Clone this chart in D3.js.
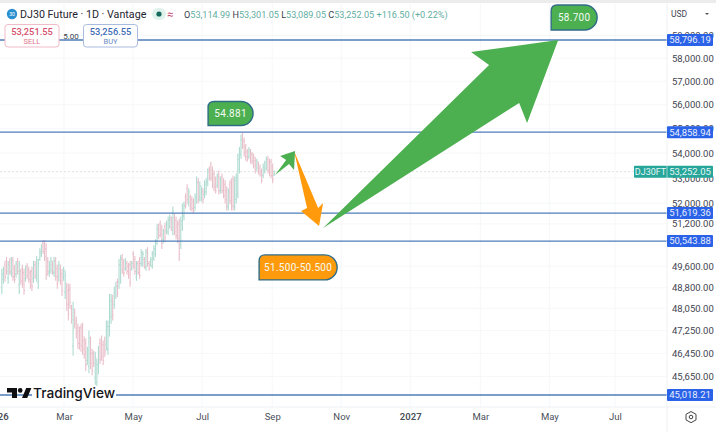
<!DOCTYPE html>
<html><head><meta charset="utf-8">
<script src="https://cdn.jsdelivr.net/npm/d3@7/dist/d3.min.js"></script>
<style>
html,body{margin:0;padding:0;background:#fff;overflow:hidden}
svg{display:block;font-family:Roboto,"Noto Sans",sans-serif}
</style></head><body><svg id="c" width="716" height="432"></svg>
<script>
// ---------- data ----------
const barOpen=[48800,49100,49650,49800,49150,49750,49350,49800,49500,49300,49780,48900,49400,49500,49350,49150,49600,49450,49350,49400,49150,49650,49200,49000,49900,50050,50450,50400,50250,49800,49350,49450,49650,49350,49800,49500,49200,49500,49300,49200,48650,48800,48700,48750,48050,46700,47900,47600,47350,47250,47350,47400,46900,46800,46200,46000,46850,46450,46400,45600,45450,45900,46800,46900,46750,46900,46750,46600,47300,47750,48350,48200,48500,49000,49000,49150,49900,49750,49500,49700,49600,49650,49500,50050,49850,49200,49700,49800,49700,49700,49850,49550,50200,49700,49650,49600,49900,50050,50550,51100,51200,51000,50600,51100,50950,50900,51100,51350,50950,51450,51350,51150,51200,50400,51150,51500,52250,52600,52000,52250,52150,52050,51850,52200,52800,52250,52200,52450,52350,52450,52800,53350,53500,53300,53150,52950,52700,53150,52500,53050,52850,52750,52500,51850,52750,52800,52950,51850,52150,52350,53350,53950,54700,54500,54250,54050,53850,54050,53950,53850,53700,53400,53550,53400,53250,53100,53300,53400,53750,53650,53650,53450,53114.99];
const barHigh=[49500,49575,49795,49945,49795,49905,49945,49945,49650,49795,49905,49795,49500,49650,49500,49610,49720,49575,49465,49575,49795,49795,49980,49870,50275,50425,50575,50575,50460,49945,49795,49945,49795,49945,49945,49650,49795,49650,49500,49575,49425,48980,48945,48945,48175,48285,48035,47755,47500,47395,47500,47535,47040,46970,46685,47255,47040,46615,46545,46510,46260,46720,46970,47075,46895,47040,47610,47610,48575,48575,48540,48835,49020,49130,49870,50020,50055,49870,49905,49795,49720,49795,49795,50165,49980,49795,49795,49945,50240,50165,49945,50240,50315,49795,49945,50165,50390,50610,51210,51210,51330,51170,51010,51250,51330,51485,51560,51485,51880,51600,51485,51330,51405,51485,51995,52075,52390,52750,52590,52350,52275,52195,52390,53060,52985,52870,52670,52590,52905,52985,53380,53460,53655,53460,53300,53060,53180,53300,53060,53180,52985,52905,52670,52590,52905,52985,53100,53060,53180,53970,54250,54760,54840,54640,54370,54170,54250,54170,54050,53970,53855,53775,53655,53540,53380,53580,53695,53855,53895,53775,53775,53580,53301.05];
const barLow=[48575,48945,49020,49280,48945,49280,49205,49055,48980,49170,49280,48575,48910,48800,48540,49020,49130,48980,48760,48685,48980,49130,49020,48760,49795,49945,50055,49795,49095,49240,49205,49315,49280,49205,49055,48760,49020,48910,48500,49055,48390,47965,47610,48035,47500,46370,47325,46970,46615,46580,46510,46400,46260,45835,46045,45760,45905,45690,45975,45370,45265,45725,46080,46190,46045,46330,46545,46400,47040,47500,47610,48035,48390,48460,48760,48945,49315,49205,49425,49280,49130,48835,49425,49500,49280,49055,49280,49130,49575,49575,49500,49425,49575,49425,49575,49500,49795,49945,50390,50610,50690,50240,50460,50500,50810,50770,51010,50930,50770,50770,50610,50460,49795,50240,50930,51330,51800,51995,51880,51720,51680,51600,51720,51995,51995,52075,52075,51995,52195,52315,52670,52905,52870,52590,52470,52390,52590,52350,52390,52390,52195,51995,51720,51720,51960,51720,51720,51720,51995,52195,53180,53775,54170,53855,53695,53655,53775,53580,53540,53380,53180,53300,53140,53060,52790,52985,53180,53300,53180,53060,52985,52790,53089.05];
const barClose=[49300,49450,49200,49400,49650,49400,49800,49200,49100,49680,49400,49650,49050,48950,48700,49500,49250,49100,48900,48850,49650,49250,49850,49700,50150,50300,50150,49950,49300,49400,49650,49800,49400,49800,49200,48950,49650,49050,48700,49450,49250,48200,47850,48250,47650,48000,47500,47150,46800,46750,46700,46600,46400,46050,46550,47000,46100,45850,46100,46300,46050,46500,46250,46350,46200,46500,47400,47400,48300,48350,47800,48650,48850,48600,49650,49850,49450,49350,49800,49400,49250,49000,49700,49600,49400,49650,49350,49250,50100,50050,49600,50100,49700,49500,49850,50050,50250,50450,51000,50750,50800,50450,50900,50650,51200,51350,51450,51050,51700,50900,50750,50650,50050,51300,51800,51900,51950,52150,52450,51850,51800,51700,52250,52850,52150,52700,52550,52150,52750,52850,53250,53000,53000,52750,52650,52500,53050,52500,52950,52500,52300,52150,51900,52450,52100,51900,51900,52900,53000,53750,54050,54550,54300,54000,53850,53750,54150,53700,53650,53500,53300,53650,53250,53150,52900,53450,53600,53750,53300,53200,53100,52950,53252.05];
const levels=[58796.19,54858.94,51619.36,50543.88,45018.21];
const lastClose=53252.05;
const priceTicks=[59000,58000,57000,56000,55000,54000,53000,52000,51200,49600,48800,48050,47250,46450,45650];
const timeTickDays=[0,59,120,181,243,304,365,427,488,546];
const timeTickLabels=["2026","Mar","May","Jul","Sep","Nov","2027","Mar","May","Jul"];
const gridDays=[59,120,181,243,304,365,427,488,546];
const firstSessionDay=4, daysPerSession=1.4;
// annotation shapes as [days since 1 Jan 2026, price]
const bigArrow=[[288,51047],[434.7,57701],[418.8,58268],[495.8,58796],[468.3,55238],[461.3,56076]];
const smallArrow=[[245.5,53124],[255.3,53723],[250,53885],[263.2,54088],[262.3,53322],[257.9,53563]];
const downArrow=[[262.3,54088],[283.6,51819],[288,52014],[284.4,51123],[268.5,51702],[273.8,51819]];
const callouts=[
 {label:"54.881",day:206.2,price:55635,fill:"#4caf50",w:45,h:24},
 {label:"58.700",day:509.9,price:59799,fill:"#4caf50",w:46,h:25},
 {label:"51.500-50.500",day:265.9,price:49552,fill:"#ff9a0d",w:78,h:25}];

// ---------- scales ----------
const W=716,H=432,paneR=667,paneB=407;
const t0=Date.UTC(2026,0,1);
const dt=d=>new Date(t0+d*864e5);
const x=d3.scaleUtc().domain([dt(0),dt(546)]).range([-2.7,615]);
const y=d3.scaleLog().domain([58796.19,45018.21]).range([40,395]);
const svg=d3.select("#c");
svg.append("rect").attr("width",W).attr("height",H).attr("fill","#fff");
svg.append("rect").attr("width",W).attr("height",3).attr("fill","#ececec");

const defs=svg.append("defs");
defs.append("clipPath").attr("id","pane").append("rect").attr("width",paneR).attr("height",paneB);
const pane=svg.append("g").attr("clip-path","url(#pane)");

// grid
pane.selectAll(".gh").data(priceTicks).join("line").attr("x1",0).attr("x2",paneR)
 .attr("y1",d=>y(d)).attr("y2",d=>y(d)).attr("stroke","#f6f7f9").attr("stroke-width",1);
pane.selectAll(".gv").data(gridDays).join("line").attr("y1",3).attr("y2",paneB)
 .attr("x1",d=>x(dt(d))).attr("x2",d=>x(dt(d))).attr("stroke","#f6f7f9").attr("stroke-width",1);

// last price line
pane.append("line").attr("x1",0).attr("x2",paneR).attr("y1",y(lastClose)).attr("y2",y(lastClose))
 .attr("stroke","#dfe5e3").attr("stroke-width",1).attr("stroke-dasharray","2 2");

// OHLC bars
const up="#aedbd1",down="#e9bfca";
const bars=pane.append("g").selectAll("g").data(barClose.map((c,i)=>({i,o:barOpen[i],h:barHigh[i],l:barLow[i],c}))).join("g")
 .attr("stroke",d=>d.c>=d.o?up:down).attr("stroke-width",1.1);
const bx=d=>x(dt(firstSessionDay+d.i*daysPerSession));
bars.append("line").attr("x1",bx).attr("x2",bx).attr("y1",d=>y(d.h)).attr("y2",d=>y(d.l));
bars.append("line").attr("x1",d=>bx(d)-1).attr("x2",bx).attr("y1",d=>y(d.o)).attr("y2",d=>y(d.o));
bars.append("line").attr("x1",bx).attr("x2",d=>bx(d)+1).attr("y1",d=>y(d.c)).attr("y2",d=>y(d.c));

// levels
pane.selectAll(".lv").data(levels).join("line").attr("x1",0).attr("x2",paneR)
 .attr("y1",d=>y(d)).attr("y2",d=>y(d)).attr("stroke","#4f7cb8").attr("stroke-width",1.3);

// arrows
const poly=d3.line().x(d=>x(dt(d[0]))).y(d=>y(d[1])).curve(d3.curveLinearClosed);
pane.append("path").attr("d",poly(downArrow)).attr("fill","#ff9a0d");
pane.append("path").attr("d",poly(bigArrow)).attr("fill","#4caf50");
pane.append("path").attr("d",poly(smallArrow)).attr("fill","#4caf50");

// callouts
const cg=pane.selectAll(".co").data(callouts).join("g")
 .attr("transform",d=>`translate(${x(dt(d.day))},${y(d.price)})`);
cg.append("path").attr("fill",d=>d.fill).attr("stroke","#2f6c86").attr("stroke-width",1.4)
 .attr("d",d=>{const a=d.w/2,b=d.h/2,r=b,s=6;
  return `M${-a},${b}V${-b+s}Q${-a},${-b} ${-a+s},${-b}H${a-r}A${r},${r} 0 0 1 ${a-r},${b}Z`;});
cg.append("text").attr("text-anchor","middle").attr("y",3.6).attr("fill","#f4fbf4")
 .attr("font-size",10).attr("letter-spacing",.3).text(d=>d.label);

// axes
const ax=svg.append("g").attr("transform",`translate(${paneR},0)`)
 .call(d3.axisRight(y).tickValues(priceTicks).tickSize(0).tickPadding(5).tickFormat(d3.format(",.2f")));
ax.select(".domain").remove();
ax.selectAll("text").attr("font-size",9.5).attr("fill","#3f4450").attr("font-family","Roboto,sans-serif");
const bxA=svg.append("g").attr("transform",`translate(0,${paneB})`)
 .call(d3.axisBottom(x).tickValues(timeTickDays.map(dt)).tickSize(0).tickPadding(6)
  .tickFormat((d,i)=>timeTickLabels[i]));
bxA.select(".domain").remove();
bxA.selectAll("text").attr("font-size",9.5).attr("fill","#4a4f5a").attr("font-family","Roboto,sans-serif")
 .attr("font-weight",(d,i)=>/^20/.test(timeTickLabels[i])?600:400);
svg.append("line").attr("x1",paneR).attr("x2",paneR).attr("y1",3).attr("y2",432).attr("stroke","#eef0f3");
svg.append("line").attr("x1",0).attr("x2",716).attr("y1",paneB).attr("y2",paneB).attr("stroke","#eef0f3");

// price tags
const tags=svg.selectAll(".tag").data(levels).join("g").attr("transform",d=>`translate(${paneR},${y(d)})`);
tags.append("rect").attr("y",-6).attr("width",46).attr("height",12).attr("rx",1).attr("fill","#2a62e8");
tags.append("text").attr("x",23).attr("y",3.4).attr("text-anchor","middle").attr("font-size",9.5).attr("fill","#e8eefc").text(d=>d3.format(",.2f")(d));
const lt=svg.append("g").attr("transform",`translate(${paneR},${y(lastClose)})`);
lt.append("rect").attr("x",-33).attr("y",-6).attr("width",33).attr("height",12).attr("rx",1).attr("fill","#26a69a");
lt.append("rect").attr("x",0).attr("y",-6).attr("width",46).attr("height",12).attr("rx",1).attr("fill","#26a69a");
lt.append("line").attr("y1",-6).attr("y2",6).attr("stroke","#8fd3cb");
lt.append("text").attr("x",-16.5).attr("y",3.4).attr("text-anchor","middle").attr("font-size",9).attr("fill","#e8f7f5").text("DJ30FT");
lt.append("text").attr("x",23).attr("y",3.4).attr("text-anchor","middle").attr("font-size",9.5).attr("fill","#e8f7f5").text(d3.format(",.2f")(lastClose));

// header
svg.append("circle").attr("cx",12).attr("cy",14).attr("r",5.2).attr("fill","#2a8fd0");
svg.append("text").attr("x",12).attr("y",16).attr("text-anchor","middle").attr("font-size",5).attr("fill","#fff").text("30");
svg.append("text").attr("x",20).attr("y",18).attr("font-size",10.7).attr("fill","#1f2430").text("DJ30 Future · 1D · Vantage");
svg.append("rect").attr("x",152).attr("y",8).attr("width",14).attr("height",12).attr("rx",6).attr("fill","#dff3ec");
svg.append("circle").attr("cx",159).attr("cy",14).attr("r",2.6).attr("fill","#14695c");
svg.append("text").attr("x",167).attr("y",17.5).attr("font-size",11).attr("fill","#c2476a").text("≈");
const ohlc=svg.append("text").attr("x",184).attr("y",17.5).attr("font-size",9.1).attr("fill","#5fae9f");
[["O","#3a3f4b"],["53,114.99 ",null],["H","#3a3f4b"],["53,301.05 ",null],["L","#3a3f4b"],["53,089.05 ",null],["C","#3a3f4b"],["53,252.05 +116.50 (+0.22%)",null]]
 .forEach(([t,c])=>{const s=ohlc.append("tspan").style("white-space","pre").text(t);if(c)s.attr("fill",c);});

// buy / sell
function box(x0,w,stroke,col,v,l){
 svg.append("rect").attr("x",x0).attr("y",24.5).attr("width",w).attr("height",22.5).attr("rx",3).attr("fill","#fff").attr("stroke",stroke);
 svg.append("text").attr("x",x0+w/2).attr("y",34.5).attr("text-anchor","middle").attr("font-size",9.3).attr("font-weight",500).attr("fill",col).text(v);
 svg.append("text").attr("x",x0+w/2).attr("y",44).attr("text-anchor","middle").attr("font-size",7.5).attr("fill",col).attr("opacity",.8).text(l);
}
box(5,54,"#f0bcc8","#d5506e","53,251.55","SELL");
box(83.5,54,"#a9bcdf","#3f6db5","53,256.55","BUY");
svg.append("text").attr("x",71).attr("y",38.5).attr("text-anchor","middle").attr("font-size",8).attr("fill","#3a3f4b").text("5.00");

// currency + gear
svg.append("text").attr("x",671).attr("y",17).attr("font-size",8.5).attr("fill","#3f4450").text("USD");
svg.append("path").attr("d","M705,13h4l-2,2z").attr("fill","#555");
svg.append("path").attr("d","M691,411.5l5,2.8v5.6l-5,2.8l-5,-2.8v-5.6z").attr("fill","none").attr("stroke","#444").attr("stroke-width",1);
svg.append("circle").attr("cx",691).attr("cy",417).attr("r",1.8).attr("fill","none").attr("stroke","#444");

// watermark
svg.append("rect").attr("x",32).attr("y",386).attr("width",84).attr("height",15).attr("fill","#fff");
svg.append("path").attr("fill","#0f0f12").attr("d","M7,388h10v10h-5v-5.4h-5zM22,398l4.2,-10h5.2l-4.2,10z");
svg.append("circle").attr("cx",20.2).attr("cy",390.4).attr("r",2.3).attr("fill","#0f0f12");
svg.append("text").attr("x",33).attr("y",398).attr("font-size",13.7).attr("font-weight",500).attr("fill","#15151a").attr("font-family","Inter,Roboto,sans-serif").text("TradingView");
</script></body></html>
